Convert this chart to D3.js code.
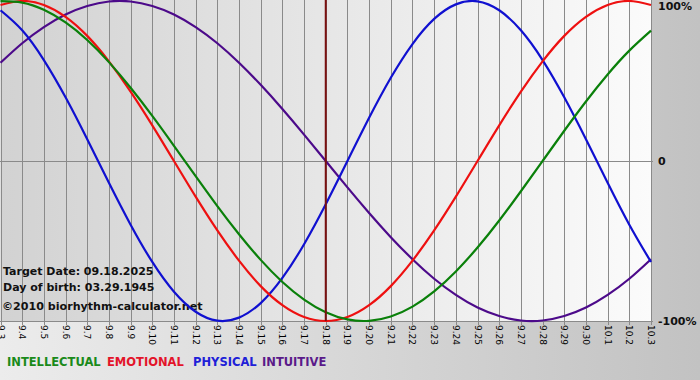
<!DOCTYPE html>
<html><head><meta charset="utf-8">
<script src="https://cdn.jsdelivr.net/npm/d3@7"></script>
<style>html,body{margin:0;padding:0;background:#d0d0d0;}svg{display:block;}</style>
</head><body>
<svg id="chart" width="700" height="380"></svg>
<script>
const dayLabels = ["9.3","9.4","9.5","9.6","9.7","9.8","9.9","9.10","9.11","9.12","9.13","9.14","9.15","9.16","9.17","9.18","9.19","9.20","9.21","9.22","9.23","9.24","9.25","9.26","9.27","9.28","9.29","9.30","10.1","10.2","10.3"];
const physical = [0.942,0.817,0.631,0.398,0.136,-0.136,-0.398,-0.631,-0.817,-0.942,-0.998,-0.979,-0.888,-0.731,-0.520,-0.270,0,0.270,0.520,0.731,0.888,0.979,0.998,0.942,0.817,0.631,0.398,0.136,-0.136,-0.398,-0.631];
const emotional = [0.975,1,0.975,0.901,0.782,0.623,0.434,0.223,0,-0.223,-0.434,-0.623,-0.782,-0.901,-0.975,-1,-0.975,-0.901,-0.782,-0.623,-0.434,-0.223,0,0.223,0.434,0.623,0.782,0.901,0.975,1,0.975];
const intellectual = [0.999,0.990,0.945,0.866,0.756,0.618,0.458,0.282,0.095,-0.095,-0.282,-0.458,-0.618,-0.756,-0.866,-0.945,-0.990,-0.999,-0.972,-0.910,-0.815,-0.690,-0.541,-0.372,-0.189,0,0.189,0.372,0.541,0.690,0.815];
const intuitive = [0.614,0.736,0.837,0.916,0.969,0.997,0.997,0.969,0.916,0.837,0.736,0.614,0.476,0.325,0.165,0,-0.165,-0.325,-0.476,-0.614,-0.736,-0.837,-0.916,-0.969,-0.997,-0.997,-0.969,-0.916,-0.837,-0.736,-0.614];
const yTickValues = [1, 0, -1];
const yTickLabels = ["100%", "0", "-100%"];
const targetIndex = 15;
const infoLines = ["Target Date: 09.18.2025", "Day of birth: 03.29.1945"];
const copyright = "\u00A92010 biorhythm-calculator.net";
const legendNames = ["INTELLECTUAL", "EMOTIONAL", "PHYSICAL", "INTUITIVE"];

const svg = d3.select("#chart");
const defs = svg.append("defs");
const gOut = defs.append("linearGradient").attr("id","outer").attr("x1","0").attr("x2","1").attr("y1","0").attr("y2","0");
gOut.append("stop").attr("offset","0").attr("stop-color","#ececec");
gOut.append("stop").attr("offset","1").attr("stop-color","#c2c2c2");
const gIn = defs.append("linearGradient").attr("id","inner").attr("x1","0").attr("x2","1").attr("y1","0").attr("y2","0");
gIn.append("stop").attr("offset","0").attr("stop-color","#d2d2d2");
gIn.append("stop").attr("offset","1").attr("stop-color","#fbfbfb");

svg.append("rect").attr("width",700).attr("height",380).attr("fill","url(#outer)");

const x = d3.scaleLinear().domain([0, dayLabels.length - 1]).range([0.5, 651]);
const y = d3.scaleLinear().domain([-1, 1]).range([321, 1]);

svg.append("rect").attr("x", x(0)).attr("y", 0).attr("width", x(30) - x(0)).attr("height", y(-1))
  .attr("fill","url(#inner)");

// vertical grid
svg.append("g").selectAll("line").data(dayLabels).join("line")
  .attr("x1",(d,i)=>Math.round(x(i))+0.5).attr("x2",(d,i)=>Math.round(x(i))+0.5)
  .attr("y1",0).attr("y2",y(-1)+4)
  .attr("stroke","#8a8a8a").attr("stroke-width",1);

// horizontal lines at 0 and -100%
svg.append("line").attr("x1",0).attr("x2",x(30)+2).attr("y1",Math.round(y(0))+0.5).attr("y2",Math.round(y(0))+0.5)
  .attr("stroke","#8a8a8a");
svg.append("line").attr("x1",0).attr("x2",x(30)+2).attr("y1",Math.round(y(-1))+0.5).attr("y2",Math.round(y(-1))+0.5)
  .attr("stroke","#8a8a8a");

// x tick labels (rotated)
svg.append("g").selectAll("text").data(dayLabels).join("text")
  .attr("transform",(d,i)=>`translate(${Math.round(x(i))-3.5},325) rotate(90)`)
  .attr("font-family","Verdana, 'DejaVu Sans', sans-serif").attr("font-size",9)
  .attr("fill","#000")
  .text(d=>d);

// y labels
svg.append("g").selectAll("text").data(yTickValues).join("text")
  .attr("x",658).attr("y",(d)=>Math.max(y(d),6))
  .attr("dy","0.35em")
  .attr("font-family","Verdana, 'DejaVu Sans', sans-serif").attr("font-size",11).attr("font-weight","bold")
  .attr("fill","#111")
  .text((d,i)=>yTickLabels[i]);

// info text
svg.append("g").selectAll("text").data(infoLines).join("text")
  .attr("x",3).attr("y",(d,i)=>275+i*16)
  .attr("font-family","Verdana, 'DejaVu Sans', sans-serif").attr("font-size",11).attr("font-weight","bold")
  .attr("fill","#111").text(d=>d);
svg.append("text").attr("x",2).attr("y",310)
  .attr("font-family","Verdana, 'DejaVu Sans', sans-serif").attr("font-size",11.1).attr("font-weight","bold")
  .attr("fill","#111").text(copyright);

// curves
const series = [
  {name:"INTELLECTUAL", vals: intellectual, color:"#0a800a"},
  {name:"EMOTIONAL", vals: emotional, color:"#ee1010"},
  {name:"PHYSICAL", vals: physical, color:"#1010d0"},
  {name:"INTUITIVE", vals: intuitive, color:"#4c0a8a"}
];
const line = d3.line().x((d,i)=>x(i)).y(d=>y(d)).curve(d3.curveNatural);
const gl = svg.append("g");
gl.selectAll("path").data(series.slice().reverse()).join("path")
  .attr("d", d=>line(d.vals)).attr("fill","none")
  .attr("stroke", d=>d.color).attr("stroke-width",2.2);

// target line
svg.append("line").attr("x1",x(targetIndex)).attr("x2",x(targetIndex)).attr("y1",0).attr("y2",y(-1))
  .attr("stroke","#7a1010").attr("stroke-width",2);

// legend
const legendColors = ["#1a8a1a","#e3142a","#2020d8","#5a1a8a"];
const legendX = [7, 107, 193, 262];
svg.append("g").selectAll("text").data(legendNames).join("text")
  .attr("x",(d,i)=>legendX[i]).attr("y",366)
  .attr("font-family","Verdana, 'DejaVu Sans', sans-serif").attr("font-size",11.5).attr("font-weight","bold")
  .attr("fill",(d,i)=>legendColors[i]).text(d=>d);
</script>
</body></html>
